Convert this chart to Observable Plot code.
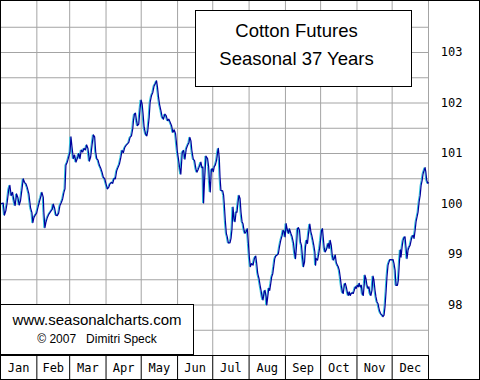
<!DOCTYPE html>
<html>
<head>
<meta charset="utf-8">
<script src="https://cdn.jsdelivr.net/npm/d3@7"></script>
<script src="https://cdn.jsdelivr.net/npm/@observablehq/plot@0.6"></script>
<style>
  html, body { margin: 0; padding: 0; background: #fff; }
  #wrap { position: relative; width: 480px; height: 380px; overflow: hidden; }
  #chart svg { display: block; }
  .box { position: absolute; box-sizing: border-box; border: 1px solid #000; background: #fff; color: #000; text-align: center; font-family: "Liberation Sans", Arial, sans-serif; }
  #title { left: 195px; top: 10px; width: 217px; height: 77px; padding-top: 6px; padding-right: 14px; font-size: 18.5px; line-height: 28px; }
  #credits { left: 0; top: 304px; width: 194px; height: 51px; padding-top: 6px; }
  #credits .l1 { font-size: 15px; line-height: 18px; }
  #credits .l2 { font-size: 12px; line-height: 16px; margin-top: 2px; white-space: pre; }
  #border { position: absolute; left: 0; top: 0; width: 480px; height: 380px; box-sizing: border-box; border: 1px solid #000; pointer-events: none; }
</style>
</head>
<body>
<div id="wrap">
  <div id="chart"></div>
  <div class="box" id="title"><div>Cotton Futures</div><div>Seasonal 37 Years</div></div>
  <div class="box" id="credits"><div class="l1">www.seasonalcharts.com</div><div class="l2">© 2007   Dimitri Speck</div></div>
  <div id="border"></div>
</div>
<script>
const monthNames = ["Jan","Feb","Mar","Apr","May","Jun","Jul","Aug","Sep","Oct","Nov","Dec"];
const monthStarts = [0,31,59,90,120,151,181,212,243,273,304,334,365];
const yGridValues = [97.5,98,98.5,99,99.5,100,100.5,101,101.5,102,102.5,103,103.5];
const yTickValues = [98,99,100,101,102,103];

const days = [
0,2.3,3.4,4.6,5.7,7.1,8.0,9.1,10.3,11.4,12.5,13.7,14.8,16.0,17.1,18.2,19.4,20.5,21.7,22.8,
24.2,25.6,26.8,27.6,28.5,29.6,30.8,31.9,33.0,34.2,35.3,36.5,37.0,37.9,38.7,39.9,41.3,42.7,44.2,45.0,
46.2,47.3,48.4,49.6,50.7,51.9,53.0,54.1,55.0,55.8,57.0,58.1,59.3,60.1,61.0,62.1,63.2,64.4,65.5,66.7,
67.8,68.9,70.1,71.2,72.4,73.5,74.6,75.8,76.9,78.1,79.2,80.3,81.2,82.1,83.2,84.3,85.5,86.6,87.7,88.9,
90.0,91.2,92.3,93.4,
94.6,95.7,96.9,98.0,99.1,100.3,101.4,102.6,103.7,104.8,106.0,107.1,108.3,109.4,110.5,111.7,112.8,113.4,114.2,115.1,
116.0,116.8,117.9,119.1,119.9,120.8,121.6,122.5,123.7,124.8,125.6,126.8,127.6,128.8,129.9,131.0,132.2,133.1,133.9,134.8,
135.6,136.8,137.9,139.0,140.2,141.3,142.5,143.6,144.7,145.9,147.0,148.1,149.3,149.9,150.7,151.6,152.7,153.8,155.0,156.1,
157.3,158.4,159.5,160.7,161.5,162.4,163.2,164.4,165.5,166.7,167.5,168.7,169.8,170.9,171.8,172.6,173.2,174.1,
175.2,176.6,177.5,178.1,178.9,179.8,180.6,181.5,182.3,183.2,184.3,185.2,185.8,186.6,187.2,188.0,189.5,190.3,190.9,191.7,
192.6,193.4,194.3,195.7,196.6,197.4,198.3,199.1,200.0,200.9,201.7,202.6,203.4,204.3,205.1,206.0,206.8,207.7,208.5,209.4,
210.5,211.4,212.2,213.1,214.2,215.4,216.5,217.7,218.5,219.4,220.5,221.4,222.2,223.1,223.9,224.8,225.6,226.5,227.1,227.9,
228.8,229.6,230.5,231.3,232.2,233.0,233.9,234.8,235.9,237.0,237.9,239.0,240.2,241.0,241.9,242.7,243.6,244.4,245.6,246.4,
247.6,248.7,249.9,250.7,251.6,252.4,253.3,254.1,255.0,255.8,256.7,257.5,258.4,259.3,260.1,261.0,261.8,263.0,263.8,264.7,
265.5,266.4,267.2,268.1,268.7,
269.2,270.4,271.2,272.1,272.9,273.8,274.6,275.2,276.1,276.9,277.8,278.6,279.5,280.3,281.2,282.1,282.9,283.8,284.6,285.5,
286.3,287.2,288.0,288.9,289.7,290.6,291.5,292.3,293.2,294.0,294.9,295.7,296.6,297.4,298.3,299.1,300.0,300.9,301.7,302.6,
303.4,304.3,305.1,306.0,306.8,307.7,308.5,309.4,310.3,310.8,311.7,312.5,313.4,314.2,315.1,315.9,316.8,317.7,318.5,319.4,
320.2,321.1,321.9,322.8,323.6,324.5,325.4,326.2,327.1,327.9,328.8,329.6,330.5,331.3,332.2,333.0,333.9,334.8,335.6,336.5,
337.3,338.5,339.3,340.2,341.0,341.6,342.5,343.3,344.2,345.0,345.9,346.7,347.6,348.5,349.3,350.2,351.0,351.9,352.7,353.6,
354.4,355.3,356.1,357.0,357.9,358.7,359.6,360.4,361.3,362.1,362.7,363.5,364.4,365.0
];

const values = [
100.0,100.02,99.78,99.87,100.03,100.3,100.37,100.17,100.23,100.07,99.97,100.2,100.13,99.98,100.07,100.27,100.5,100.43,100.4,100.33,
100.2,99.93,99.83,99.63,99.73,99.78,99.82,99.93,100.03,100.13,100.23,100.13,99.83,99.53,99.63,99.73,99.8,99.85,99.9,100.0,
99.91,99.78,99.77,99.82,99.97,100.03,100.1,100.23,100.3,100.77,100.83,100.93,101.03,101.33,101.13,100.9,100.97,100.83,100.9,101.0,
100.9,101.07,101.03,101.1,101.07,101.17,101.1,100.85,100.93,101.17,101.37,101.33,101.03,100.9,100.87,100.77,100.71,100.63,100.53,100.5,
100.4,100.3,100.33,100.4,
100.43,100.41,100.51,100.5,100.66,100.73,100.79,100.92,101.06,101.02,101.12,101.16,101.19,101.22,101.32,101.35,101.49,101.65,101.78,101.8,
101.65,101.55,101.58,101.91,102.06,101.98,101.78,101.52,101.39,101.35,101.45,101.72,102.01,102.15,102.21,102.34,102.39,102.44,102.31,102.11,
101.98,101.85,101.72,101.68,101.78,101.75,101.65,101.68,101.62,101.55,101.42,101.47,101.39,101.25,101.06,100.92,100.73,100.59,101.02,101.06,
100.89,101.09,101.16,101.22,101.32,101.25,101.06,100.89,100.86,100.69,100.63,100.69,100.76,100.83,100.72,100.73,100.02,100.5,
100.95,100.9,100.74,100.47,100.24,100.67,100.7,100.64,100.74,100.77,100.87,101.03,101.1,100.9,100.54,100.27,100.26,100.17,99.98,99.68,
99.42,99.35,99.23,99.23,99.32,99.5,99.94,99.71,99.65,99.84,99.84,100.04,100.17,100.11,99.84,99.65,99.61,99.48,99.42,99.45,
99.51,99.22,98.95,98.76,98.82,98.79,98.92,98.97,98.82,98.62,98.52,98.39,98.29,98.16,98.1,98.26,98.29,98.16,98.0,98.16,
98.33,98.29,98.43,98.56,98.62,98.76,98.92,98.97,98.99,99.02,99.15,99.28,99.38,99.48,99.45,99.35,99.61,99.51,99.42,99.51,
99.42,99.35,99.22,99.05,98.92,99.15,99.51,99.53,99.48,99.25,99.18,98.95,98.76,98.85,99.15,99.28,99.22,99.48,99.6,99.45,
99.38,99.28,99.18,99.05,98.79,
98.92,98.89,98.99,99.12,99.28,99.48,99.51,99.35,99.12,99.05,99.09,99.15,99.22,99.12,99.28,99.18,98.99,98.89,98.92,98.99,
98.85,98.79,98.76,98.69,98.56,98.39,98.26,98.23,98.39,98.43,98.36,98.26,98.19,98.26,98.19,98.23,98.24,98.23,98.29,98.36,
98.33,98.39,98.36,98.43,98.36,98.39,98.23,98.19,98.43,98.59,98.52,98.39,98.33,98.36,98.23,98.19,98.29,98.57,98.49,98.29,
98.16,98.06,98.03,97.93,97.86,97.82,97.8,97.77,97.8,97.96,98.26,98.56,98.79,98.85,98.9,98.9,98.89,98.9,98.82,98.69,
98.39,98.39,98.49,98.85,99.09,98.95,99.15,99.28,99.34,99.35,99.12,98.92,99.09,99.15,99.18,99.28,99.36,99.38,99.32,99.48,
99.65,99.75,99.84,100.04,100.17,100.37,100.47,100.6,100.67,100.72,100.64,100.47,100.41,100.42
];

const series = days.map((d, i) => ({day: d, value: values[i]}));
const monthMids = monthNames.map((m, i) => (monthStarts[i] + monthStarts[i + 1]) / 2);
const boundaries = monthStarts.slice(1);

const chart = Plot.plot({
  width: 480,
  height: 380,
  marginLeft: 0,
  marginRight: 52,
  marginTop: 0,
  marginBottom: 25,
  x: {domain: [0, 365], label: null},
  y: {domain: [97, 104.03], label: null},
  style: {background: "white", color: "black", fontFamily: "'DejaVu Sans Mono', monospace", fontSize: "12px"},
  marks: [
    Plot.gridX(boundaries, {stroke: "#a4a4a4", strokeOpacity: 1}),
    Plot.gridY(yGridValues, {stroke: "#a4a4a4", strokeOpacity: 1}),
    Plot.line(series, {x: "day", y: "value", stroke: "#2cc4dc", strokeWidth: 1, dx: -1}),
    Plot.line(series, {x: "day", y: "value", stroke: "#00009c", strokeWidth: 1.2}),
    Plot.frame({anchor: "bottom", stroke: "black"}),
    Plot.axisX(boundaries, {tickSize: 24, tickFormat: () => "", stroke: "black", strokeOpacity: 1}),
    Plot.axisX(monthMids, {tickSize: 0, tickPadding: 8, tickFormat: d => monthNames[monthMids.indexOf(d)], fill: "black"}),
    Plot.axisY(yTickValues, {anchor: "right", tickSize: 0, tickPadding: 34, textAnchor: "end", tickFormat: d => String(d), fill: "black"})
  ]
});
document.getElementById("chart").appendChild(chart);
</script>
</body>
</html>
